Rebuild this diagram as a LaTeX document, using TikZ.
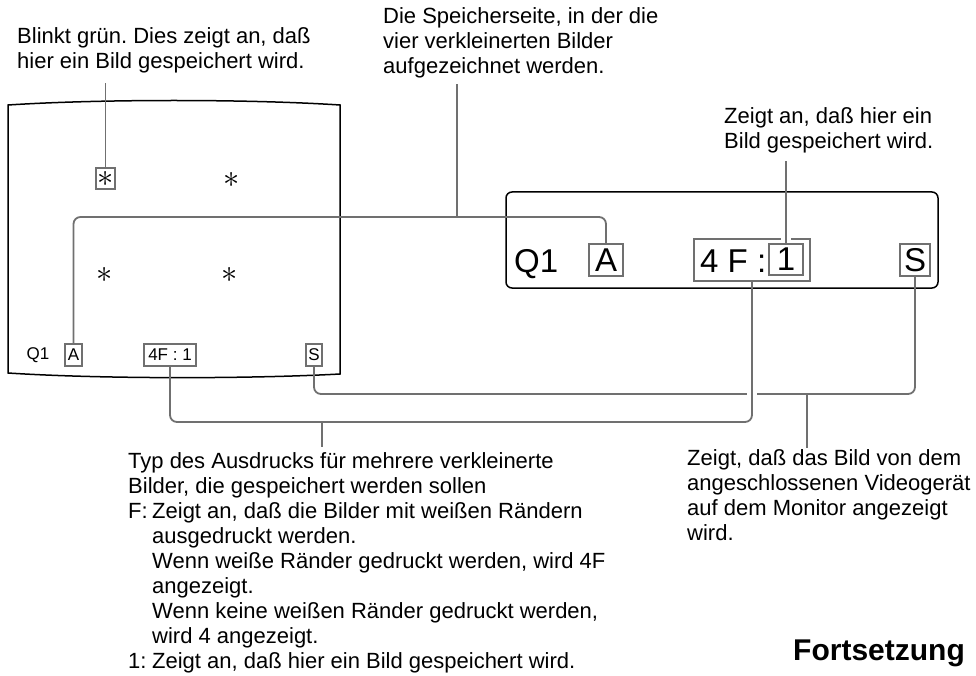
\documentclass[tikz,border=0pt]{standalone}
\usepackage{fontspec}
\setmainfont{Liberation Sans}
\usepackage{graphicx}
\usepackage{xcolor}
\definecolor{leadgray}{RGB}{112,112,112}
\usetikzlibrary{calc, positioning}
\frenchspacing
\newcommand{\bigstar}{\scalebox{1.3}{$\ast$}}

\tikzset{
  lead/.style={draw=leadgray, line width=1.8pt, rounded corners=7pt},
  bridge/.style={draw=white, line width=4pt},
  tag/.style={draw=leadgray, line width=1.6pt, inner sep=0pt},
  note/.style={anchor=north west, align=left, inner sep=0pt,
    font=\fontsize{22}{25}\selectfont},
  smalltxt/.style={font=\fontsize{17}{17}\selectfont},
  bigtxt/.style={font=\fontsize{33}{33}\selectfont},
  startxt/.style={inner sep=0pt, font=\fontsize{24}{24}\selectfont}
}

\begin{document}
\begin{tikzpicture}[x=1pt, y=-1pt]
  \useasboundingbox (0,0) rectangle (976,676);

  % --- Monitor screen ---
  \draw[line width=1.5pt] (8,105) .. controls (100,99) and (248,99) .. (340,105)
       -- (340,374) .. controls (248,379) and (100,379) .. (8,373) -- cycle;
  \node[tag, minimum width=19pt, minimum height=21pt, startxt] (starA) at (105.5,178.5) {\bigstar};
  \node[startxt] (starB) at (232,180) {\bigstar};
  \node[startxt] (starC) at (105,275) {\bigstar};
  \node[startxt] (starD) at (230,275) {\bigstar};
  \node[smalltxt] (sQ) at (38,355) {Q1};
  \node[tag, smalltxt, minimum width=17pt, minimum height=22pt] (sA) at (73.5,355) {A};
  \node[tag, smalltxt, minimum width=52pt, minimum height=22pt] (sF) at (170,355) {4F : 1};
  \node[tag, smalltxt, minimum width=16pt, minimum height=22pt] (sS) at (314,355) {S};

  % --- Printer display ---
  \node[draw, line width=1.5pt, rounded corners=6pt, minimum width=432pt,
        minimum height=96pt] (display) at (722,240) {};
  \node[bigtxt, anchor=base west, inner sep=0pt] (bQ) at (514,272) {Q1};
  \node[tag, bigtxt, minimum width=34pt, minimum height=32pt] (bA) at (606,260) {A};
  \node[tag, minimum width=116pt, minimum height=42pt] (bF) at (752,260) {};
  \node[bigtxt, anchor=base west, inner sep=0pt] (bFtext) at (700,272) {4 F :};
  \node[tag, bigtxt, minimum width=34pt, minimum height=31pt] (bOne) at (786,259.5) {1};
  \node[tag, bigtxt, minimum width=30pt, minimum height=32pt] (bS) at (915,260) {S};

  % --- Labels ---
  \node[note] (blink) at (17,27) {Blinkt grün. Dies zeigt an, daß\\hier ein Bild gespeichert wird.};
  \node[note] (page) at (383,7) {Die Speicherseite, in der die\\vier verkleinerten Bilder\\aufgezeichnet werden.};
  \node[note] (frame) at (724,107) {Zeigt an, daß hier ein\\Bild gespeichert wird.};
  \node[note] (type) at (128,452) {Typ des Ausdrucks für mehrere verkleinerte\\
    Bilder, die gespeichert werden sollen\\
    \makebox[24pt][l]{F:}Zeigt an, daß die Bilder mit weißen Rändern\\
    \hspace*{24pt}ausgedruckt werden.\\
    \hspace*{24pt}Wenn weiße Ränder gedruckt werden, wird 4F\\
    \hspace*{24pt}angezeigt.\\
    \hspace*{24pt}Wenn keine weißen Ränder gedruckt werden,\\
    \hspace*{24pt}wird 4 angezeigt.\\
    \makebox[24pt][l]{1:}Zeigt an, daß hier ein Bild gespeichert wird.};
  \node[note] (video) at (687,449) {Zeigt, daß das Bild von dem\\angeschlossenen Videogerät\\auf dem Monitor angezeigt\\wird.};
  \node[anchor=base west, inner sep=0pt, font=\bfseries\fontsize{30}{30}\selectfont] (cont) at (793,660) {Fortsetzung};

  % --- Leader lines ---
  \draw[lead] (starA.north) -- ($(blink.south -| starA)+(0,10)$);
  \coordinate (pageJoin) at (457,217);
  \draw[lead] (sA.north) |- (pageJoin) -| (bA.north);
  \draw[lead] (pageJoin) -- ($(page.south -| pageJoin)+(0,6)$);
  \draw[bridge, line width=3pt] ($(bF.north -| bOne)+(-5,0)$) -- ($(bF.north -| bOne)+(5,0)$);
  \draw[lead] (bOne.north) -- ($(frame.south -| bOne)+(0,8)$);
  \coordinate (videoJoin) at (807,394);
  \draw[lead] (sS.south) |- (videoJoin) -| (bS.south);
  \draw[lead] (videoJoin) -- ($(videoJoin |- video.north)+(0,-1)$);
  \coordinate (cross) at (bF.south |- videoJoin);
  \draw[bridge] ($(cross)+(-5,0)$) -- ($(cross)+(5,0)$);
  \coordinate (typeJoin) at (322,422);
  \draw[lead] (sF.south) |- (typeJoin) -| (bF.south);
  \draw[lead] (typeJoin) -- ($(typeJoin |- type.north)+(0,-5)$);
\end{tikzpicture}
\end{document}
